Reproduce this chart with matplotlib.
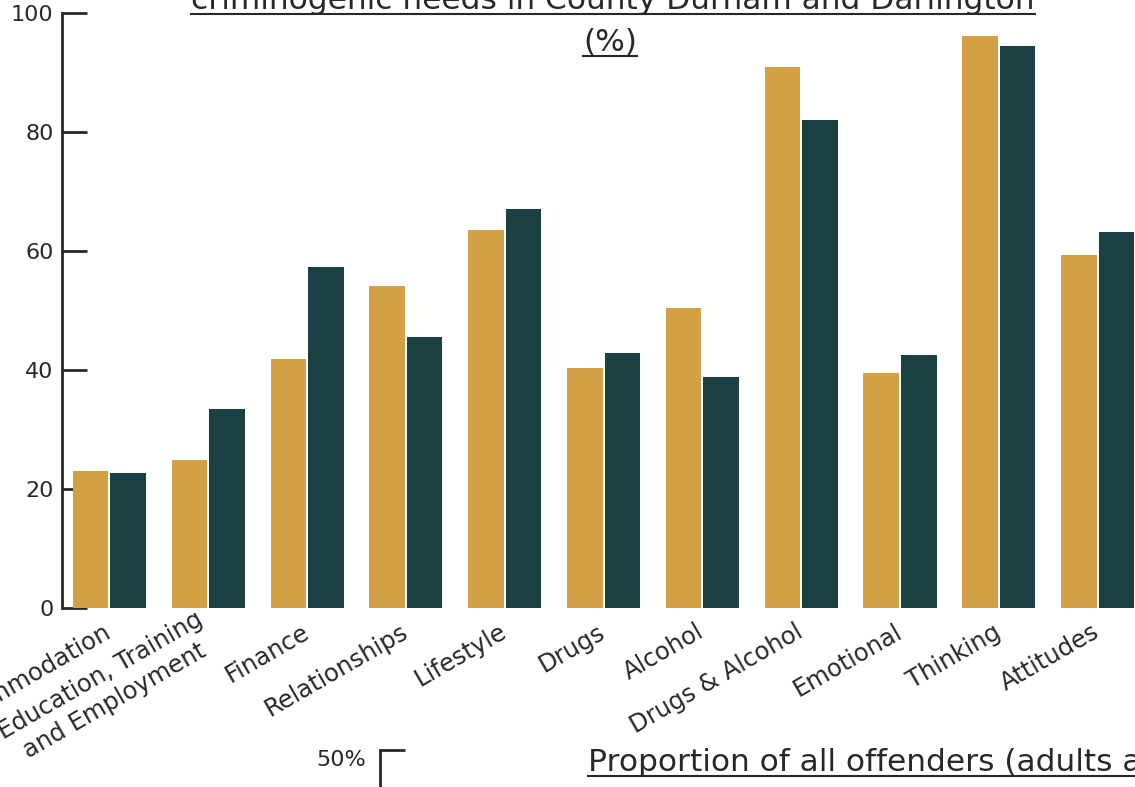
import matplotlib
matplotlib.use("agg")
import matplotlib.pyplot as plt
import numpy as np

# Criminogenic needs, County Durham and Darlington (%)
needs = ["Accommodation", "Education, Training\nand Employment", "Finance",
         "Relationships", "Lifestyle", "Drugs", "Alcohol", "Drugs & Alcohol",
         "Emotional", "Thinking", "Attitudes"]
series_a = [23.0, 24.9, 41.8, 54.1, 63.5, 40.3, 50.4, 90.9, 39.5, 96.1, 59.3]
series_b = [22.7, 33.4, 57.3, 45.5, 67.1, 42.9, 38.8, 82.0, 42.5, 94.5, 63.2]
yticks = [0, 20, 40, 60, 80, 100]

gold = "#D4A046"
teal = "#1B4044"
ink = "#2B2728"

plt.rcParams["font.family"] = ["DejaVu Sans"]

W, H = 1135, 787
fig = plt.figure(figsize=(W / 100, H / 100), dpi=100)

# main bar axes, extends a little past the right edge
x0, x1 = -0.48, 10.5
px_left, px_right = 62, 1147
ax = fig.add_axes([px_left / W, 1 - 608 / H, (px_right - px_left) / W, (608 - 13) / H])

x = np.arange(len(needs))
w = 0.36
ax.bar(x - 0.19, series_a, width=w, color=gold, zorder=2)
ax.bar(x + 0.19, series_b, width=w, color=teal, zorder=2)

ax.set_xlim(x0, x1)
ax.set_ylim(0, 100)
ax.set_yticks(yticks)
ax.set_yticklabels([str(v) for v in yticks], fontsize=16, color=ink)
ax.tick_params(axis="y", direction="in", length=18, width=2, color=ink, pad=6)
ax.set_xticks(x)
ax.set_xticklabels(needs, rotation=30, ha="right", va="center",
                   rotation_mode="anchor", fontsize=17.5, color=ink,
                   multialignment="center", linespacing=1.25)
ax.tick_params(axis="x", length=0, pad=16)
for s in ["top", "right", "bottom"]:
    ax.spines[s].set_visible(False)
ax.spines["left"].set_linewidth(2)
ax.spines["left"].set_color(ink)

# second chart starting below
ax2 = fig.add_axes([380 / W, -0.3, 0.6, 0.3 + (787 - 750) / H])
ax2.set_ylim(0, 50)
ax2.set_yticks([50])
ax2.set_yticklabels(["50%"], fontsize=16, color=ink, va="top")
ax2.tick_params(axis="y", direction="in", length=18, width=2, color=ink, pad=10)
ax2.set_xticks([])
for s in ["top", "right", "bottom"]:
    ax2.spines[s].set_visible(False)
ax2.spines["left"].set_linewidth(2)
ax2.spines["left"].set_color(ink)
ax2.patch.set_alpha(0)


def px_text(xp, yp, s, ha="center", size=22.5):
    return fig.text(xp / W, 1 - yp / H, s, ha=ha, va="baseline",
                    fontsize=size, color=ink)


titles = [
    px_text(613, 9, "criminogenic needs in County Durham and Darlington"),
    px_text(610, 51, "(%)"),
    px_text(588, 771, "Proportion of all offenders (adults and young people)", ha="left"),
]

# underline each title line
fig.canvas.draw()
renderer = fig.canvas.get_renderer()
for t in titles:
    bb = t.get_window_extent(renderer)
    _, ybase = t.get_transform().transform(t.get_position())
    yl = (ybase - 5) / H
    fig.add_artist(plt.Line2D([bb.x0 / W, bb.x1 / W], [yl, yl],
                              transform=fig.transFigure, color=ink, lw=1.5))

fig.savefig("out.png", dpi=100)
